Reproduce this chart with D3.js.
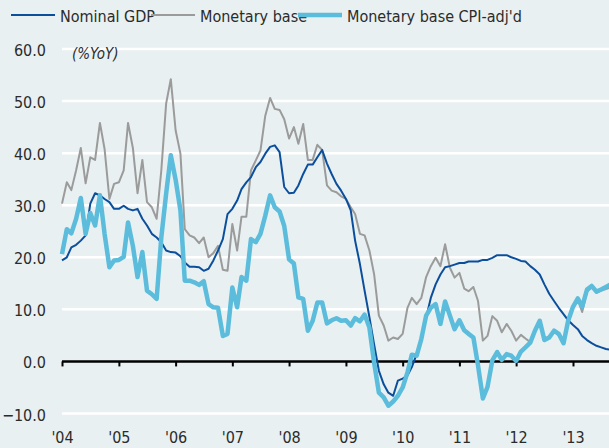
<!DOCTYPE html>
<html>
<head>
<meta charset="utf-8">
<title>Monetary base vs nominal GDP</title>
<script src="https://d3js.org/d3.v7.min.js"></script>
<style>
  body { margin: 0; background: #e8f0f1; }
  svg { display: block; }
  text { font-family: "Liberation Sans Narrow", "DejaVu Sans Condensed", sans-serif; fill: #2b2b2b; }
</style>
</head>
<body>
<svg width="609" height="448"></svg>
<script>
// monthly series, Jan 2004 onwards (% YoY)
var startYear = 2004;
var yearLabels = ["'04", "'05", "'06", "'07", "'08", "'09", "'10", "'11", "'12", "'13"];
var yTicks = [-10, 0, 10, 20, 30, 40, 50, 60];
var seriesNames = ["Nominal GDP", "Monetary base", "Monetary base CPI-adj'd"];

var nominalGDP = [19.4, 20, 21.9, 22.4, 23.2, 24.2, 30.3, 32.3, 31.9, 31.2, 30.6, 29.3,
  29.3, 29.9, 29.3, 29, 29.3, 27.4, 26.1, 24.5, 23.8, 22.9, 21.3, 21,
  20.9, 20.2, 19, 18.2, 18.2, 18.1, 17.4, 17.8, 19.4, 21.3, 23.5, 28.3,
  29.3, 30.9, 33.1, 34.4, 35.4, 37.3, 38.3, 39.9, 41.2, 41.5, 40.2, 33.5,
  32.3, 32.4, 33.8, 36, 37.8, 37.8, 39.2, 40.6, 38, 36, 34.1, 32.8,
  31.2, 29, 23.2, 18.7, 13.6, 8.5, 3.3, -1.8, -4.4, -6, -6.6, -3.7,
  -3.3, -2.7, -1.1, 1.4, 4.6, 8.4, 12.2, 14.8, 16.7, 18.1, 18.3, 18.6,
  18.9, 18.9, 19.2, 19.2, 19.2, 19.5, 19.5, 19.9, 20.4, 20.4, 20.4, 20,
  19.7, 19.3, 19.2, 18.3, 17.6, 16.7, 14.8, 13, 11.6, 10.3, 9.1, 7.9,
  7, 6.2, 4.9, 4.1, 3.5, 3, 2.7, 2.4, 2.2];

var monetaryBase = [30.3, 34.4, 32.9, 36.7, 41, 34.2, 39.2, 38.7, 45.8, 40.8, 31.2, 34.1,
  34.4, 36.7, 45.8, 41, 32.3, 38.7, 30.6, 29.6, 27.4, 36.7, 49.5, 54.2,
  44.4, 39.9, 25.4, 24.2, 23.8, 22.7, 23.8, 20, 20.8, 22.2, 17.6, 17.4,
  26.4, 21.3, 27.8, 27.8, 36.7, 38.6, 40.5, 47.2, 50.6, 48.5, 48.3, 46.5,
  42.8, 45, 41.8, 45.6, 38.7, 38.7, 41.6, 40.6, 33.8, 32.8, 32.5, 31.7,
  31.2, 29.6, 28.3, 24.5, 24.2, 21.3, 16.8, 8.8, 6.9, 4, 4.6, 4.3,
  5.3, 10.3, 12.2, 11, 12.2, 16.2, 18.3, 19.9, 18.3, 22.5, 18, 16.1,
  17, 14, 13.5, 14.3, 11.6, 4, 4.9, 8.7, 7.8, 5.6, 7.2, 5.9,
  4, 5.1, 4.4, 3.7, 6, 7.6, 4.3, 4.8, 5.8, 5, 3.8, 7.5,
  10.2, 11.8, 9.5, 13.4, 14.2, 13.2, 13.6, 13.9, 14.2];

var baseCPIadj = [20.6, 25.4, 24.6, 27.4, 31.4, 24.5, 28.5, 26.1, 31.9, 24.5, 18.1, 19.4,
  19.5, 20.1, 26.7, 22.2, 16.2, 21, 13.6, 12.9, 12, 23.8, 32.2, 39.6,
  34.9, 29, 15.5, 15.5, 15.2, 14.7, 15.4, 11, 10.4, 10.3, 4.9, 5.3,
  14.2, 10.4, 16.2, 15.5, 23.5, 22.9, 24.5, 28, 31.9, 29.6, 28.8, 26,
  19.6, 18.8, 12.3, 12, 5.9, 7.8, 11.3, 11.3, 7.3, 7.9, 8.3, 7.8,
  7.9, 6.9, 8.3, 7.7, 9, 6.5, -0.2, -6, -6.9, -8.5, -7.7, -6.6,
  -5, -2.1, 1.3, 1.1, 4.3, 8.8, 10.3, 11, 7.2, 11.5, 8.8, 6.2,
  7.9, 6, 5.3, 4.6, -0.8, -7.1, -4.9, 0.2, 1.8, 0.3, 1.4, 1.1,
  0.1, 1.9, 2.7, 3.6, 5.9, 7.8, 4.1, 4.6, 5.9, 5.3, 3.5, 7.8,
  10.5, 12.1, 10.5, 13.8, 14.5, 13.4, 13.8, 14.3, 14.8];

var colors = ["#0b4f9c", "#9b9b9b", "#5bbcdc"];
var widths = [2, 2, 4.5];

var svg = d3.select("svg");

var x = d3.scaleTime()
  .domain([new Date(2004, 0, 1), new Date(2013, 0, 1)])
  .range([62, 573]);
var y = d3.scaleLinear().domain([-10, 60]).range([413.5, 49]);

function monthDate(i) { return new Date(startYear, i, 1); }

// grid lines
svg.append("g")
  .selectAll("line")
  .data(yTicks.filter(function(d) { return d != 0; }))
  .enter()
  .append("line")
    .attr("x1", 62).attr("x2", 609)
    .attr("y1", function(d) { return y(d); })
    .attr("y2", function(d) { return y(d); })
    .attr("stroke", "#fff")
    .attr("stroke-width", 2.5);

// y labels
svg.append("g")
  .selectAll("text")
  .data(yTicks)
  .enter()
  .append("text")
    .attr("x", 46)
    .attr("y", function(d) { return y(d) + 7; })
    .attr("text-anchor", "end")
    .style("font-size", "16px")
    .text(function(d) { return d3.format(".1f")(d); });

svg.append("text")
  .attr("x", 72).attr("y", 59)
  .style("font-size", "15px")
  .style("font-style", "italic")
  .text("(%YoY)");

// lines
var allSeries = [monetaryBase, nominalGDP, baseCPIadj];
var order = [1, 0, 2];
var line = d3.line()
  .x(function(d, i) { return x(monthDate(i)); })
  .y(function(d) { return y(d); });

// zero line + ticks
var years = d3.range(startYear, startYear + yearLabels.length).map(function(yr) { return new Date(yr, 0, 1); });
var xAxis = d3.axisBottom(x).tickValues(years).tickSize(5).tickFormat(function(d, i) { return yearLabels[i]; });
var ax = svg.append("g")
  .attr("transform", "translate(0," + y(0) + ")")
  .call(xAxis);
ax.select(".domain").attr("d", "M62,0H609").attr("stroke", "#000").attr("stroke-width", 2.5);
ax.selectAll(".tick line").attr("stroke", "#000").attr("stroke-width", 2);
ax.selectAll(".tick text")
  .attr("y", 0).attr("dy", 0)
  .attr("transform", "translate(0," + (443 - y(0)) + ")")
  .style("font-size", "16px")
  .style("font-family", "\"Liberation Sans Narrow\", \"DejaVu Sans Condensed\", sans-serif")
  .attr("fill", "#2b2b2b");

allSeries.forEach(function(s, k) {
  var idx = order[k];
  svg.append("path")
    .datum(s)
    .attr("fill", "none")
    .attr("stroke", colors[idx])
    .attr("stroke-width", widths[idx])
    .attr("stroke-linejoin", "round")
    .attr("d", line);
});

// legend
var legX = [11, 151, 298];
var leg = svg.append("g");
seriesNames.forEach(function(name, i) {
  leg.append("line")
    .attr("x1", legX[i]).attr("x2", legX[i] + 44)
    .attr("y1", 15).attr("y2", 15)
    .attr("stroke", colors[i])
    .attr("stroke-width", i == 2 ? 4.5 : 2);
  leg.append("text")
    .attr("x", legX[i] + 49).attr("y", 22)
    .style("font-size", "16px")
    .text(name);
});
</script>
</body>
</html>
